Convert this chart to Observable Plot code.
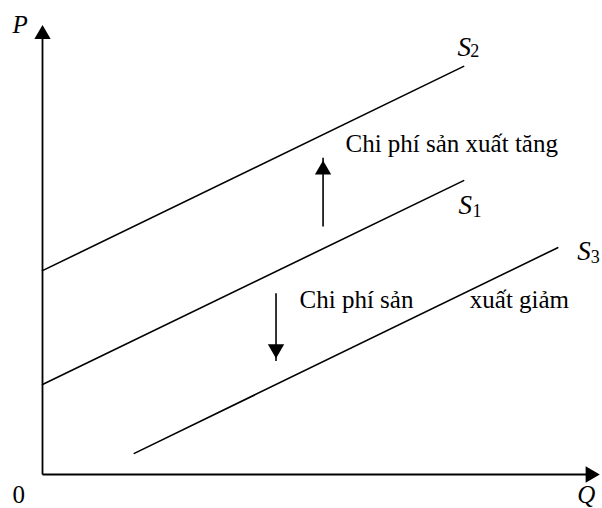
<!DOCTYPE html>
<html>
<head>
<meta charset="utf-8">
<script src="https://cdn.jsdelivr.net/npm/d3@7"></script>
<script src="https://cdn.jsdelivr.net/npm/@observablehq/plot@0.6"></script>
<style>
  html, body { margin: 0; padding: 0; background: #fff; }
  #chart svg { display: block; }
</style>
</head>
<body>
<div id="chart"></div>
<script>
// Supply curves (Q, P) endpoints, arbitrary units
const curveNames = ["S2", "S1", "S3"];
const curveQ0 = [0, 0, 1.64];
const curveP0 = [4.53, 2.0, 0.47];
const curveQ1 = [7.52, 7.52, 9.2];
const curveP1 = [9.07, 6.53, 5.04];

// Curve labels (letter + subscript)
const labelMain = ["S", "S", "S"];
const labelSub = ["2", "1", "3"];
const labelQ = [7.41, 7.43, 9.55];
const labelP = [9.31, 5.8, 4.76];
const subQ = [7.64, 7.68, 9.79];
const subP = [9.27, 5.73, 4.69];

// Shift arrows
const shiftDir = ["up", "down"];
const shiftQ = [5.01, 4.17];
const shiftFrom = [5.51, 4.03];
const shiftTo = [7.04, 2.52];

// Annotation texts
const noteTexts = ["Chi phí sản xuất tăng", "Chi phí sản", "xuất giảm"];
const noteQ = [5.41, 4.59, 7.63];
const noteP = [7.16, 3.71, 3.71];

// Axis labels
const italicTexts = ["P", "Q"];
const italicQ = [-0.536, 9.55];
const italicP = [9.82, -0.64];
const originText = "0";
const originQ = -0.536;
const originP = -0.64;
const axisTipQ = 10.0;
const axisTipP = 10.05;

const curves = curveNames.flatMap((n, i) => [
  {name: n, q: curveQ0[i], p: curveP0[i]},
  {name: n, q: curveQ1[i], p: curveP1[i]}
]);
const labels = labelMain.map((t, i) => ({t, q: labelQ[i], p: labelP[i]}));
const subs = labelSub.map((t, i) => ({t, q: subQ[i], p: subP[i]}));
const shifts = shiftQ.map((q, i) => ({dir: shiftDir[i], q, p1: shiftFrom[i], p2: shiftTo[i]}));
const notes = noteTexts.map((t, i) => ({t, q: noteQ[i], p: noteP[i]}));
const italics = italicTexts.map((t, i) => ({t, q: italicQ[i], p: italicP[i]}));

const font = "Liberation Serif, Times New Roman, serif";
const headR = 7.8;
const headOff = 2 * Math.sqrt(headR * headR * Math.PI / (Math.sqrt(3) * 3));

const chart = Plot.plot({
  width: 602,
  height: 508,
  marginLeft: 42,
  marginRight: 0,
  marginTop: 24,
  marginBottom: 34,
  x: {domain: [0, 10], axis: null},
  y: {domain: [0, 10], axis: null},
  style: {fontFamily: font, background: "#fff", overflow: "visible"},
  marks: [
    // axes
    Plot.link([{x1: 0, y1: 0, x2: 0, y2: axisTipP - 0.2}], {x1: "x1", y1: "y1", x2: "x2", y2: "y2", stroke: "black", strokeWidth: 1.8}),
    Plot.link([{x1: 0, y1: 0, x2: axisTipQ - 0.15, y2: 0}], {x1: "x1", y1: "y1", x2: "x2", y2: "y2", stroke: "black", strokeWidth: 1.8}),
    Plot.dot([{q: 0, p: axisTipP}], {x: "q", y: "p", symbol: "triangle2", r: headR, fill: "black", dy: headOff}),
    Plot.dot([{q: axisTipQ, p: 0}], {x: "q", y: "p", symbol: "triangle2", r: headR, fill: "black", rotate: 90, dx: -headOff}),
    // supply curves
    Plot.line(curves, {x: "q", y: "p", z: "name", stroke: "black", strokeWidth: 1.6}),
    // shift arrows
    Plot.link(shifts, {x1: "q", x2: "q", y1: "p1", y2: "p2", stroke: "black", strokeWidth: 1.6}),
    Plot.dot(shifts.filter(d => d.dir === "up"), {x: "q", y: "p2", symbol: "triangle2", r: headR, fill: "black", dy: headOff}),
    Plot.dot(shifts.filter(d => d.dir === "down"), {x: "q", y: "p2", symbol: "triangle2", r: headR, fill: "black", rotate: 180, dy: -headOff}),
    // labels
    Plot.text(labels, {x: "q", y: "p", text: "t", textAnchor: "start", lineAnchor: "bottom", fontSize: 27, fontStyle: "italic", fill: "black"}),
    Plot.text(subs, {x: "q", y: "p", text: "t", textAnchor: "start", lineAnchor: "bottom", fontSize: 18, fill: "black"}),
    Plot.text(notes, {x: "q", y: "p", text: "t", textAnchor: "start", lineAnchor: "bottom", fontSize: 25, fill: "black"}),
    Plot.text(italics, {x: "q", y: "p", text: "t", textAnchor: "start", lineAnchor: "bottom", fontSize: 25, fontStyle: "italic", fill: "black"}),
    Plot.text([{t: originText, q: originQ, p: originP}], {x: "q", y: "p", text: "t", textAnchor: "start", lineAnchor: "bottom", fontSize: 25, fill: "black"})
  ]
});

document.getElementById("chart").appendChild(chart);
</script>
</body>
</html>
